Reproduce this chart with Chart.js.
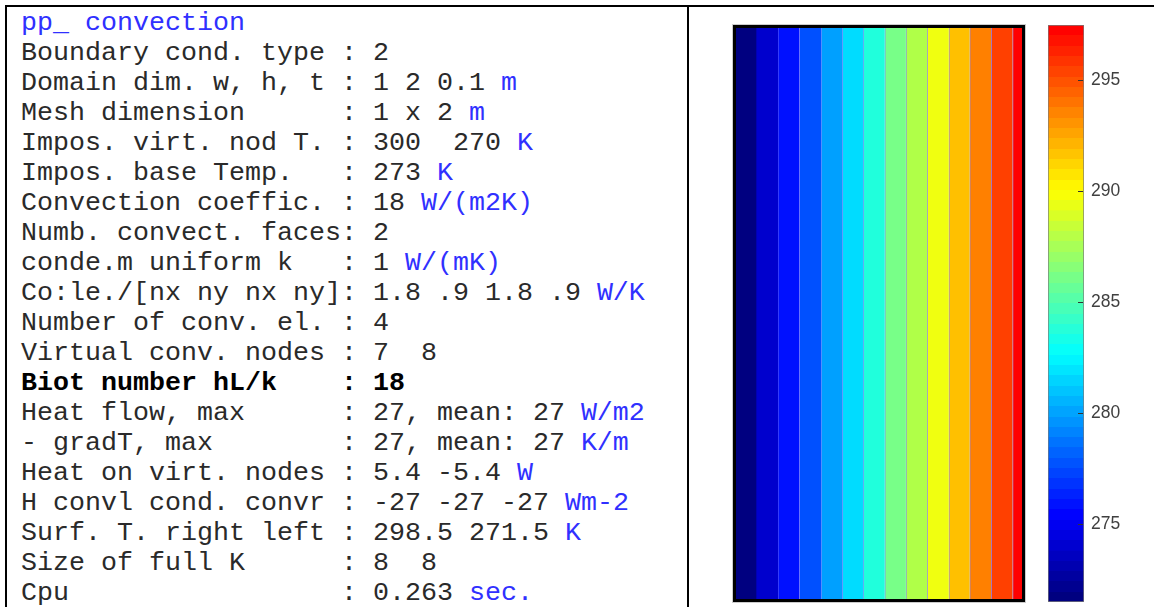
<!DOCTYPE html>
<html>
<head>
<meta charset="utf-8">
<script src="https://cdn.jsdelivr.net/npm/chart.js@4/dist/chart.umd.min.js"></script>
<style>
  body { margin: 0; background: #fff; width: 1154px; height: 607px; overflow: hidden; position: relative; }
  .frame { position: absolute; left: 5px; top: 5px; width: 1160px; height: 610px; border-top: 2px solid #000; border-left: 2px solid #000; }
  .divider { position: absolute; left: 687px; top: 5px; width: 2px; height: 610px; background: #000; }
  #info { position: absolute; left: 21px; top: 8px; margin: 0; font-family: "Liberation Mono", "Courier New", monospace; font-size: 26.67px; line-height: 30px; color: #2a2a2a; white-space: pre; }
  #info .u { color: #3030ff; }
  #info b { font-weight: bold; color: #000; }
  #plotBox { position: absolute; left: 733px; top: 25px; width: 286px; height: 571px; border: 3px solid #000; box-shadow: 0 0 0 1px rgba(0,0,0,0.2); }
  #plotBox canvas, #cbarBox canvas { display: block; }
  #cbarBox { position: absolute; left: 1040px; top: 0; width: 114px; height: 607px; }
</style>
</head>
<body>
<div class="frame"></div>
<div class="divider"></div>
<pre id="info"></pre>
<div id="plotBox"><canvas id="bands" width="286" height="571"></canvas></div>
<div id="cbarBox"><canvas id="cbar" width="114" height="607"></canvas></div>
<script>
// text lines: label, value, unit (unit drawn in blue)
const infoTitle = "pp_ convection";
const infoLines = [
  ["Boundary cond. type ", "2", ""],
  ["Domain dim. w, h, t ", "1 2 0.1", "m"],
  ["Mesh dimension      ", "1 x 2", "m"],
  ["Impos. virt. nod T. ", "300  270", "K"],
  ["Impos. base Temp.   ", "273", "K"],
  ["Convection coeffic. ", "18", "W/(m2K)"],
  ["Numb. convect. faces", "2", ""],
  ["conde.m uniform k   ", "1", "W/(mK)"],
  ["Co:le./[nx ny nx ny]", "1.8 .9 1.8 .9", "W/K"],
  ["Number of conv. el. ", "4", ""],
  ["Virtual conv. nodes ", "7  8", ""],
  ["Biot number hL/k    ", "18", ""],
  ["Heat flow, max      ", "27, mean: 27", "W/m2"],
  ["- gradT, max        ", "27, mean: 27", "K/m"],
  ["Heat on virt. nodes ", "5.4 -5.4", "W"],
  ["H convl cond. convr ", "-27 -27 -27", "Wm-2"],
  ["Surf. T. right left ", "298.5 271.5", "K"],
  ["Size of full K      ", "8  8", ""],
  ["Cpu                 ", "0.263", "sec."]
];
const boldLine = "Biot number hL/k    ";

// contour bands: x edges across the 1 m width (left to right)
const bandEdges = [0, 0.070, 0.146, 0.221, 0.297, 0.371, 0.444, 0.520, 0.594, 0.668, 0.744, 0.817, 0.892, 0.967, 1.0];
const bandColors = ["#000080", "#0000cd", "#0010ff", "#0050ff", "#00a0ff", "#00dcff", "#20ffdc",
                    "#78ff88", "#b0ff48", "#f0ff10", "#ffc000", "#ff8000", "#ff4000", "#ff0000"];

// colorbar
const cbarRange = [271.5, 297.5];
const cbarTicks = [275, 280, 285, 290, 295];
const cbarSteps = 56;

const esc = (s) => s.replace(/&/g, "&amp;").replace(/</g, "&lt;");
let html = '<span class="u">' + esc(infoTitle) + "</span>\n";
html += infoLines.map(([label, val, unit]) => {
  let line = esc(label) + ": " + esc(val) + (unit ? ' <span class="u">' + esc(unit) + "</span>" : "");
  return label === boldLine ? "<b>" + line + "</b>" : line;
}).join("\n");
document.getElementById("info").innerHTML = html;

Chart.defaults.font.family = "'Liberation Sans', Arial, sans-serif";
Chart.defaults.animation = false;

new Chart(document.getElementById("bands"), {
  type: "bar",
  data: {
    labels: ["T"],
    datasets: bandColors.map((c, i) => ({
      data: [[bandEdges[i], bandEdges[i + 1]]],
      backgroundColor: c,
      borderColor: "rgba(50,50,255,0.6)",
      borderWidth: { left: i < 2 ? 0 : 1, right: 0, top: 0, bottom: 0 },
      borderSkipped: false,
      grouped: false,
      barPercentage: 1,
      categoryPercentage: 1,
    })),
  },
  options: {
    responsive: false,
    indexAxis: "y",
    layout: { padding: 0 },
    plugins: { legend: { display: false }, tooltip: { enabled: false } },
    scales: {
      x: { type: "linear", min: 0, max: 1, display: false },
      y: { display: false },
    },
  },
});

const jet = (t) => {
  const f = (v) => Math.round(255 * Math.min(1, Math.max(0, v)));
  return `rgb(${f(1.5 - Math.abs(4 * t - 3))},${f(1.5 - Math.abs(4 * t - 2))},${f(1.5 - Math.abs(4 * t - 1))})`;
};

const cbarGradient = (ctx) => {
  const area = ctx.chart.chartArea;
  if (!area) return "#888";
  const g = ctx.chart.ctx.createLinearGradient(0, area.bottom, 0, area.top);
  for (let i = 0; i < cbarSteps; i++) {
    const col = jet(i / 63);
    g.addColorStop(i / cbarSteps, col);
    g.addColorStop((i + 1) / cbarSteps - 0.0001, col);
  }
  return g;
};

const tickMarks = {
  id: "tickMarks",
  afterDatasetsDraw(chart) {
    const { ctx, chartArea } = chart;
    const s = chart.scales.y;
    ctx.save();
    ctx.strokeStyle = "#333";
    ctx.lineWidth = 1;
    cbarTicks.forEach((v) => {
      const y = Math.round(s.getPixelForValue(v)) + 0.5;
      ctx.beginPath();
      ctx.moveTo(chartArea.right - 6, y);
      ctx.lineTo(chartArea.right - 1, y);
      ctx.stroke();
    });
    ctx.restore();
  },
};

new Chart(document.getElementById("cbar"), {
  type: "bar",
  data: {
    labels: ["c"],
    datasets: [{
      data: [cbarRange],
      backgroundColor: cbarGradient,
      borderColor: "#7a7a7a",
      borderWidth: 1,
      borderSkipped: false,
      barPercentage: 1,
      categoryPercentage: 1,
    }],
  },
  options: {
    responsive: false,
    layout: { padding: { left: 8, top: 25, bottom: 5, right: 0 } },
    plugins: { legend: { display: false }, tooltip: { enabled: false } },
    scales: {
      x: { display: false },
      y: {
        position: "right",
        min: cbarRange[0],
        max: cbarRange[1],
        grid: { display: false, drawTicks: false },
        border: { display: false },
        ticks: { padding: 7, color: "#404040", font: { size: 17.5 } },
        afterBuildTicks: (s) => { s.ticks = cbarTicks.map((v) => ({ value: v })); },
        afterFit: (s) => { s.width = 70; s.paddingTop = 0; s.paddingBottom = 0; },
      },
    },
  },
  plugins: [tickMarks],
});
</script>
</body>
</html>
